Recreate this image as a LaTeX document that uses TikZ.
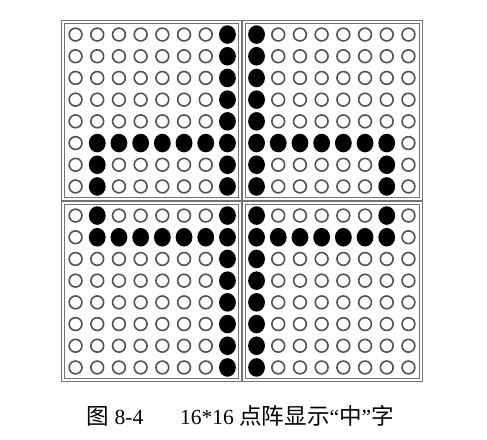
\documentclass[tikz,border=0pt]{standalone}
\usepackage{fontspec}
\setmainfont{Liberation Serif}
\newfontfamily\cjk[Scale=1.05]{Noto Sans CJK SC}
\begin{document}
\begin{tikzpicture}[x=1pt,y=-1pt,
  opendot/.style={draw=black!68,line width=1.6pt,fill=white},
  fulldot/.style={fill=black},
  framebox/.style={draw=black!55,line width=1pt},
  captiontext/.style={inner sep=0pt,anchor=base west,font=\fontsize{21.5}{24}\selectfont}]
\useasboundingbox (0,0) rectangle (487,439);
% panels
\foreach \px in {151.5,332.5}{
  \foreach \py in {110.5,291.5}{
    \draw[framebox] (\px-87,\py-87) rectangle (\px+87,\py+87);
    \draw[framebox] (\px-89.7,\py-89.7) rectangle (\px+89.7,\py+89.7);
  }
}
% open dots
\foreach \c in {0,...,15}{
  \foreach \r in {0,...,15}{
    \pgfmathsetmacro\X{151.5+(\c>7)*181+(mod(\c,8)-3.5)*21.7}
    \pgfmathsetmacro\Y{110.5+(\r>7)*181+(mod(\r,8)-3.5)*21.7}
    \draw[opendot] (\X,\Y) circle[radius=6.4];
  }
}
% filled dots
\foreach \c/\r in {7/0,7/1,7/2,7/3,7/4,7/5,7/6,7/7,7/8,7/9,7/10,7/11,7/12,7/13,7/14,7/15,
  8/0,8/1,8/2,8/3,8/4,8/5,8/6,8/7,8/8,8/9,8/10,8/11,8/12,8/13,8/14,8/15,
  1/5,2/5,3/5,4/5,5/5,6/5,9/5,10/5,11/5,12/5,13/5,14/5,
  1/9,2/9,3/9,4/9,5/9,6/9,9/9,10/9,11/9,12/9,13/9,14/9,
  1/6,1/7,1/8,14/6,14/7,14/8}{
  \pgfmathsetmacro\X{151.5+(\c>7)*181+(mod(\c,8)-3.5)*21.7}
  \pgfmathsetmacro\Y{110.5+(\r>7)*181+(mod(\r,8)-3.5)*21.7}
  \fill[fulldot] (\X,\Y) ellipse[x radius=8.4,y radius=9.3];
}
% caption
\node[captiontext] (cap1) at (86.5,424.5) {{\cjk 图} 8-4};
\node[captiontext] (cap2) at (180,424.5) {16*16 {\cjk 点阵显示}“{\cjk 中}”{\cjk 字}};
\end{tikzpicture}
\end{document}
